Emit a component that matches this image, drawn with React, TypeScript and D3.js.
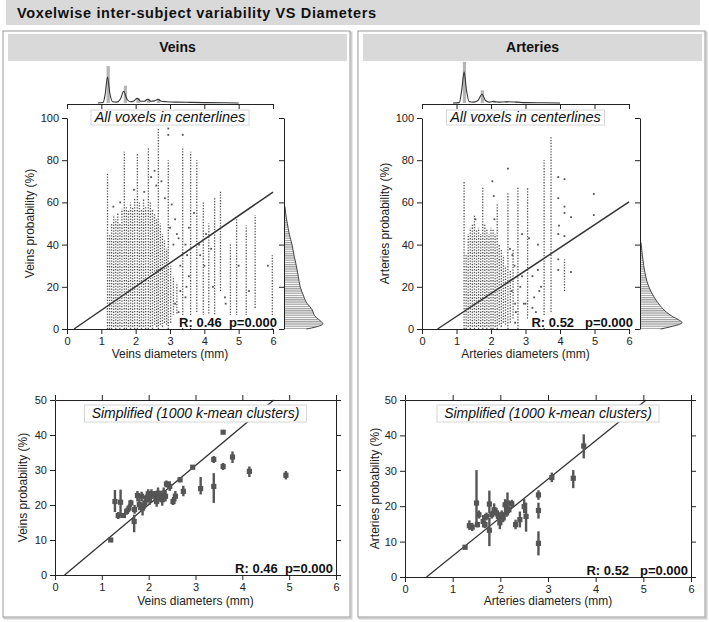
import React, { useEffect, useRef } from "react";
import * as d3 from "d3";

const FONT = "'Liberation Sans', Arial, Helvetica, sans-serif";

// ---- shared ticks / labels
const title = "Voxelwise inter-subject variability VS Diameters";
const xTicks = [0, 1, 2, 3, 4, 5, 6];
const probTicksAll = [0, 20, 40, 60, 80, 100];
const probTicksSimple = [0, 10, 20, 30, 40, 50];

// ---- Veins: voxel columns [diameter, lowest %, highest %]
const veinsColumns: [number, number, number][] = [
  [1.18, 0, 74], [1.24, 0, 45], [1.3, 0, 50], [1.36, 1, 54], [1.42, 0, 52],
  [1.48, 1, 55], [1.54, 0, 50], [1.6, 1, 57], [1.67, 0, 84], [1.73, 0, 58],
  [1.79, 1, 56], [1.85, 0, 60], [1.91, 1, 58], [1.97, 0, 62], [2.05, 0, 83],
  [2.11, 1, 60], [2.17, 0, 57], [2.23, 1, 62], [2.29, 0, 58], [2.37, 0, 86],
  [2.43, 1, 60], [2.49, 0, 57], [2.55, 2, 55], [2.61, 1, 52], [2.66, 0, 95],
  [2.72, 2, 50], [2.78, 1, 45], [2.84, 3, 42], [2.9, 2, 38], [2.95, 0, 80],
  [3.02, 3, 30], [3.1, 5, 25], [3.2, 2, 22], [3.37, 0, 86], [3.6, 0, 84],
  [3.78, 8, 80], [3.97, 5, 60], [4.13, 2, 50], [4.3, 3, 62], [4.47, 18, 65],
  [4.76, 5, 40], [4.94, 5, 52], [5.22, 5, 49], [5.48, 10, 54], [5.98, 0, 35],
];
// isolated voxels [diameter, %]
const veinsPoints: [number, number][] = [
  [2.55, 75], [2.45, 72], [2.25, 65], [1.95, 66], [2.75, 70], [2.85, 62], [3.05, 59],
  [3.15, 52], [3.2, 45], [3.25, 43], [3.3, 30], [3.45, 40], [3.5, 35], [3.55, 48],
  [3.7, 55], [3.85, 40], [3.88, 35], [4.05, 45], [4.2, 38], [4.6, 15], [4.62, 12],
  [5.85, 30], [3.15, 12], [3.25, 8], [3.45, 15], [3.48, 20], [1.55, 60], [2.95, 92],
  [2.95, 95], [3.37, 92], [2.66, 97], [1.35, 58], [2.6, 68], [3.0, 48], [3.1, 40],
  [3.3, 18], [3.5, 5], [3.55, 25], [4.0, 30], [4.25, 20], [5.0, 30], [5.3, 18],
];
// diameter histogram (top margin) [diameter, relative count]
const veinsDiamBars: [number, number][] = [[1.2, 0.88], [1.7, 0.41], [2.07, 0.12], [2.37, 0.1], [2.66, 0.1]];
const veinsDiamCurve: [number, number][] = [
  [0.9, 0], [1.05, 0.01], [1.11, 0.2], [1.18, 0.62], [1.25, 0.22], [1.33, 0.03], [1.45, 0.02],
  [1.56, 0.1], [1.65, 0.28], [1.74, 0.1], [1.84, 0.03], [1.95, 0.05], [2.05, 0.11], [2.15, 0.04],
  [2.25, 0.04], [2.35, 0.09], [2.45, 0.04], [2.55, 0.05], [2.65, 0.09], [2.75, 0.04], [2.9, 0.03],
  [3.2, 0.02], [3.6, 0.015], [4.0, 0.01], [4.6, 0.005], [5.0, 0],
];
// probability density (right margin) [%, relative density]
const veinsProbCurve: [number, number][] = [
  [0, 0.55], [1, 0.8], [2.5, 0.97], [3.5, 0.93], [5.5, 0.8], [7, 0.74], [9, 0.7], [10.5, 0.64],
  [12, 0.57], [16, 0.47], [20, 0.39], [25, 0.34], [30, 0.29], [35, 0.23], [40, 0.18], [45, 0.11],
  [50, 0.06], [55, 0.015], [58, 0],
];
// k-means clusters [diameter, %, low, high]
const veinsClusters: [number, number, number, number][] = [
  [1.19, 10.0, 10.0, 10.0], [1.28, 21.0, 18.0, 24.3], [1.35, 17.0, 16.0, 18.0], [1.4, 20.8, 16.8, 24.4],
  [1.46, 17.0, 16.3, 17.6], [1.53, 18.2, 17.2, 19.2], [1.58, 19.1, 18.0, 20.2], [1.62, 20.6, 19.5, 21.5],
  [1.69, 15.3, 12.2, 17.2], [1.7, 18.7, 17.5, 20.0], [1.76, 22.7, 21.0, 24.0], [1.8, 20.1, 18.5, 21.8],
  [1.85, 22.5, 21.0, 23.8], [1.87, 19.1, 17.0, 20.7], [1.92, 20.6, 19.0, 22.0], [1.95, 22.0, 21.0, 23.0],
  [1.99, 23.2, 22.0, 24.5], [2.02, 21.5, 20.0, 23.0], [2.06, 23.2, 21.8, 24.5], [2.13, 22.5, 21.0, 24.0],
  [2.17, 21.0, 19.5, 22.5], [2.2, 23.4, 22.0, 25.0], [2.24, 22.5, 21.0, 24.0], [2.29, 21.5, 19.8, 23.0],
  [2.32, 23.4, 22.0, 25.0], [2.36, 22.5, 21.0, 24.0], [2.38, 26.0, 25.0, 27.0], [2.45, 25.3, 24.0, 26.8],
  [2.52, 21.0, 20.0, 22.3], [2.57, 22.5, 21.0, 24.0], [2.67, 27.2, 26.5, 28.0], [2.74, 23.9, 22.5, 25.5],
  [2.94, 30.8, 30.3, 31.3], [3.11, 24.7, 23.0, 28.0], [3.39, 25.3, 20.6, 29.1], [3.39, 33.0, 32.0, 34.0],
  [3.59, 40.8, 40.8, 40.8], [3.59, 31.0, 30.0, 32.0], [3.79, 33.7, 32.0, 35.3], [4.15, 29.6, 28.0, 31.0],
  [4.93, 28.5, 27.3, 29.7],
];
const veinsFit = { slope: 11.2, intercept: -2.3 };

// ---- Arteries
const arteriesColumns: [number, number, number][] = [
  [1.22, 0, 70], [1.28, 0, 35], [1.34, 1, 45], [1.4, 0, 48], [1.46, 1, 50], [1.52, 0, 54],
  [1.58, 1, 47], [1.64, 0, 48], [1.7, 1, 45], [1.76, 0, 67], [1.82, 1, 50], [1.88, 0, 47],
  [1.94, 1, 45], [2.0, 0, 48], [2.06, 0, 47], [2.12, 1, 45], [2.18, 0, 59], [2.24, 2, 40],
  [2.3, 1, 38], [2.36, 3, 35], [2.42, 2, 30], [2.49, 0, 65], [2.56, 3, 28], [2.64, 5, 38],
  [2.78, 0, 67], [3.06, 5, 67], [3.54, 0, 80], [3.74, 8, 91], [4.13, 18, 33],
];
const arteriesPoints: [number, number][] = [
  [2.04, 70], [2.08, 63], [2.49, 76], [2.55, 38], [2.62, 35], [2.7, 12], [2.72, 8], [2.9, 25],
  [2.95, 12], [3.2, 10], [3.25, 15], [3.3, 8], [3.36, 40], [3.4, 18], [3.45, 20], [3.95, 72],
  [3.95, 62], [3.97, 49], [3.95, 45], [3.95, 33], [3.95, 28], [4.13, 71], [4.13, 58], [4.13, 55],
  [4.13, 44], [4.32, 53], [4.32, 27], [4.98, 64], [4.98, 54], [3.1, 43], [2.9, 45], [2.68, 30],
  [2.6, 18], [2.85, 20], [3.2, 25], [3.0, 12], [3.36, 28], [2.7, 3], [1.55, 52], [2.1, 52],
];
const arteriesDiamBars: [number, number][] = [[1.23, 0.98], [1.75, 0.3], [2.1, 0.05], [2.45, 0.04], [2.75, 0.03]];
const arteriesDiamCurve: [number, number][] = [
  [0.9, 0], [1.08, 0.01], [1.15, 0.3], [1.22, 0.74], [1.29, 0.3], [1.37, 0.03], [1.5, 0.02],
  [1.62, 0.06], [1.74, 0.21], [1.84, 0.06], [1.95, 0.02], [2.08, 0.04], [2.2, 0.02], [2.45, 0.03],
  [2.75, 0.02], [3.0, 0.01], [3.5, 0.005], [4.0, 0],
];
const arteriesProbCurve: [number, number][] = [
  [0, 0.5], [1, 0.75], [3, 1.05], [4.5, 0.95], [6, 0.8], [8, 0.65], [10, 0.54], [12.5, 0.43],
  [15, 0.34], [20, 0.2], [25, 0.12], [30, 0.07], [35, 0.035], [40, 0.005], [41, 0],
];
const arteriesClusters: [number, number, number, number][] = [
  [1.26, 8.4, 8.4, 8.4], [1.35, 14.5, 13.3, 16.0], [1.41, 14.1, 13.0, 15.3], [1.5, 20.9, 14.8, 30.2],
  [1.52, 14.8, 14.0, 15.6], [1.55, 17.6, 16.5, 18.8], [1.64, 15.7, 14.0, 17.5], [1.68, 14.8, 13.8, 15.8],
  [1.71, 17.1, 16.0, 18.2], [1.77, 20.6, 18.0, 24.4], [1.77, 13.2, 8.7, 16.7], [1.82, 17.6, 16.5, 18.7],
  [1.87, 19.0, 17.8, 20.8], [1.92, 18.1, 17.0, 19.5], [1.96, 17.1, 16.0, 18.2], [1.99, 15.3, 13.5, 17.0],
  [2.03, 17.6, 16.5, 18.8], [2.06, 16.7, 15.5, 18.0], [2.1, 20.4, 18.5, 22.0], [2.13, 18.1, 17.0, 19.3],
  [2.15, 20.9, 18.0, 23.9], [2.18, 19.0, 18.0, 20.0], [2.24, 20.7, 19.5, 21.8], [2.32, 14.8, 13.5, 16.2],
  [2.41, 16.2, 14.0, 18.5], [2.5, 19.9, 18.0, 22.0], [2.54, 17.1, 12.8, 21.0], [2.8, 23.2, 21.8, 24.5],
  [2.8, 18.8, 16.5, 21.0], [2.8, 9.5, 6.1, 12.9], [3.08, 28.1, 26.8, 29.5], [3.53, 27.9, 25.1, 30.2],
  [3.75, 37.0, 33.5, 40.3],
];
const arteriesFit = { slope: 10.85, intercept: -4.9 };

const series = [
  {
    name: "Veins", stats: "R: 0.46  p=0.000",
    columns: veinsColumns, points: veinsPoints, diamBars: veinsDiamBars, diamCurve: veinsDiamCurve,
    probCurve: veinsProbCurve, clusters: veinsClusters, fit: veinsFit,
  },
  {
    name: "Arteries", stats: "R: 0.52   p=0.000",
    columns: arteriesColumns, points: arteriesPoints, diamBars: arteriesDiamBars, diamCurve: arteriesDiamCurve,
    probCurve: arteriesProbCurve, clusters: arteriesClusters, fit: arteriesFit,
  },
];

// layout per panel
const layouts = [
  { px: 3, top: { x0: 67, x1: 273 }, bot: { x0: 55, x1: 336, yb: 575 }, yl: 30, ylb: 23 },
  { px: 358, top: { x0: 422, x1: 629 }, bot: { x0: 405, x1: 691, yb: 577 }, yl: 385, ylb: 375 },
];

const INK = "#222";
const DOT = "#555";

function Axis({ kind, scale, x = 0, y = 0, ticks, labels = true }: any) {
  const ref = useRef<SVGGElement>(null);
  useEffect(() => {
    const gen =
      kind === "left" ? d3.axisLeft(scale) :
      kind === "right" ? d3.axisRight(scale) :
      kind === "top" ? d3.axisTop(scale) : d3.axisBottom(scale);
    gen.tickValues(ticks).tickSizeOuter(0).tickSizeInner(5).tickPadding(3);
    gen.tickFormat(labels ? (d3.format("d") as any) : () => "");
    const g = d3.select(ref.current).call(gen as any);
    g.attr("font-family", FONT).attr("font-size", 11).attr("color", INK);
    g.selectAll("path,line").attr("stroke-width", 1);
  });
  return <g ref={ref} transform={`translate(${x},${y})`} />;
}

function fitLine(fit: any, xs: any, ys: any, yMax: number) {
  const xStart = -fit.intercept / fit.slope;
  const xEnd = Math.min(6, (yMax - fit.intercept) / fit.slope);
  return d3.line<number>().x((d) => xs(d)).y((d) => ys(fit.slope * d + fit.intercept))([xStart, xEnd]) || "";
}

function TopScatter({ s, L }: any) {
  const yb = 329, yt = 118;
  const xs = d3.scaleLinear().domain([0, 6]).range([L.top.x0, L.top.x1]);
  const ys = d3.scaleLinear().domain([0, 100]).range([yb, yt]);
  const histY = 104;
  const hs = d3.scaleLinear().domain([0, 1]).range([histY - 1, histY - 43]);
  const mx = L.top.x1 + 11;
  const ws = d3.scaleLinear().domain([0, 1]).range([mx + 1, mx + 40]);
  const curve = d3.line<[number, number]>().x((d) => xs(d[0])).y((d) => hs(d[1])).curve(d3.curveMonotoneX);
  const area = d3.area<[number, number]>().y((d) => ys(d[0])).x0(mx + 1).x1((d) => ws(d[1])).curve(d3.curveMonotoneY);
  const side = d3.line<[number, number]>().y((d) => ys(d[0])).x((d) => ws(d[1])).curve(d3.curveMonotoneY);
  const cx = (L.top.x0 + L.top.x1) / 2;
  return (
    <g>
      {/* top margin histogram */}
      {s.diamBars.map((d: any, i: number) => (
        <rect key={i} x={xs(d[0]) - 1.6} width={3.2} y={hs(d[1])} height={hs(0) - hs(d[1])} fill="#b5b5b5" />
      ))}
      <path d={curve(s.diamCurve) || ""} fill="none" stroke="#333" strokeWidth={1.1} />
      <Axis kind="bottom" scale={xs} y={histY} ticks={xTicks} labels={false} />
      {/* right margin histogram */}
      <path d={area(s.probCurve) || ""} fill="url(#stripes)" />
      <path d={side(s.probCurve) || ""} fill="none" stroke="#444" strokeWidth={1} />
      <Axis kind="left" scale={ys} x={mx} ticks={probTicksAll} labels={false} />
      {/* voxels */}
      {s.columns.map((c: any, i: number) => (
        <line key={i} x1={xs(c[0])} x2={xs(c[0])} y1={ys(c[1])} y2={ys(c[2])}
          stroke={DOT} strokeWidth={1.3} strokeDasharray="1.3 1.5" />
      ))}
      {s.points.map((p: any, i: number) => (
        <rect key={i} x={xs(p[0]) - 0.9} y={ys(p[1]) - 0.9} width={1.8} height={1.8} fill={DOT} />
      ))}
      <path d={fitLine(s.fit, xs, ys, 100)} stroke="#333" strokeWidth={1.5} fill="none" />
      <Axis kind="left" scale={ys} x={L.top.x0} ticks={probTicksAll} />
      <Axis kind="bottom" scale={xs} y={yb} ticks={xTicks} />
      {/* inset labels */}
      <rect x={cx - 79} y={yt - 8} width={158} height={15} fill="#fff" stroke="#d6d6d6" />
      <text x={cx} y={yt + 4} textAnchor="middle" fontStyle="italic" fontSize={14.5} fill="#111" fontFamily={FONT}>
        All voxels in centerlines
      </text>
      <rect x={L.top.x1 + 5 - 106} y={yb - 14} width={106} height={13} fill="#fff" />
      <text x={L.top.x1 + 4} y={yb - 2} textAnchor="end" fontWeight="bold" fontSize={13} fill="#111"
        fontFamily={FONT} style={{ whiteSpace: "pre" }}>
        {s.stats}
      </text>
      <text x={cx} y={358} textAnchor="middle" fontSize={12} fill={INK} fontFamily={FONT}>
        {s.name} diameters (mm)
      </text>
      <text transform={`translate(${L.yl},${(yb + yt) / 2}) rotate(-90)`} textAnchor="middle"
        dominantBaseline="central" fontSize={12} fill={INK} fontFamily={FONT}>
        {s.name} probability (%)
      </text>
    </g>
  );
}

function BottomPlot({ s, L }: any) {
  const { x0, x1, yb } = L.bot;
  const yt = 400;
  const xs = d3.scaleLinear().domain([0, 6]).range([x0, x1]);
  const ys = d3.scaleLinear().domain([0, 50]).range([yb, yt]);
  const cx = (x0 + x1) / 2;
  return (
    <g>
      <path d={fitLine(s.fit, xs, ys, 50)} stroke="#333" strokeWidth={1.3} fill="none" />
      {s.clusters.map((c: any, i: number) => (
        <g key={i}>
          <line x1={xs(c[0])} x2={xs(c[0])} y1={ys(c[2])} y2={ys(c[3])} stroke={DOT} strokeWidth={2.4} />
          <rect x={xs(c[0]) - 2.6} y={ys(c[1]) - 2.6} width={5.2} height={5.2} fill={DOT} />
        </g>
      ))}
      <Axis kind="left" scale={ys} x={x0} ticks={probTicksSimple} />
      <Axis kind="right" scale={ys} x={x1} ticks={probTicksSimple} labels={false} />
      <Axis kind="bottom" scale={xs} y={yb} ticks={xTicks} />
      <Axis kind="top" scale={xs} y={yt} ticks={xTicks} labels={false} />
      <rect x={cx - 111} y={yt + 5} width={222} height={17} fill="#fff" stroke="#d6d6d6" />
      <text x={cx} y={yt + 18} textAnchor="middle" fontStyle="italic" fontSize={14} fill="#111" fontFamily={FONT}>
        Simplified (1000 k-mean clusters)
      </text>
      <rect x={x1 - 3 - 104} y={yb - 14} width={104} height={13} fill="#fff" />
      <text x={x1 - 3} y={yb - 2} textAnchor="end" fontWeight="bold" fontSize={13} fill="#111"
        fontFamily={FONT} style={{ whiteSpace: "pre" }}>
        {s.stats}
      </text>
      <text x={cx} y={605} textAnchor="middle" fontSize={12} fill={INK} fontFamily={FONT}>
        {s.name} diameters (mm)
      </text>
      <text transform={`translate(${L.ylb},${(yb + yt) / 2}) rotate(-90)`} textAnchor="middle"
        dominantBaseline="central" fontSize={12} fill={INK} fontFamily={FONT}>
        {s.name} probability (%)
      </text>
    </g>
  );
}

export default function App() {
  return (
    <svg width={709} height={622} style={{ position: "absolute", left: 0, top: 0, background: "#fff" }}>
      <defs>
        <pattern id="stripes" width={4} height={2.2} patternUnits="userSpaceOnUse">
          <rect width={4} height={1.2} fill="#9c9c9c" />
        </pattern>
      </defs>
      <rect x={6} y={0} width={694} height={25} fill="#d9d9d9" />
      <text x={17} y={18} fontWeight="bold" fontSize={14.5} fill="#111" fontFamily={FONT}
        textLength={359} lengthAdjust="spacing">
        {title}
      </text>
      {series.map((s, i) => {
        const L = layouts[i];
        return (
          <g key={s.name}>
            <rect x={L.px + 1.5} y={32.5} width={347} height={586} fill="none" stroke="#cfcfcf" strokeWidth={2} />
            <rect x={L.px} y={31} width={347} height={586} fill="#fff" stroke="#999" strokeWidth={1} />
            <rect x={L.px + 5} y={34} width={339} height={27} fill="#d9d9d9" />
            <text x={L.px + 5 + 339 / 2} y={52} textAnchor="middle" fontWeight="bold" fontSize={14}
              fill="#111" fontFamily={FONT}>
              {s.name}
            </text>
            <TopScatter s={s} L={L} />
            <BottomPlot s={s} L={L} />
          </g>
        );
      })}
    </svg>
  );
}
